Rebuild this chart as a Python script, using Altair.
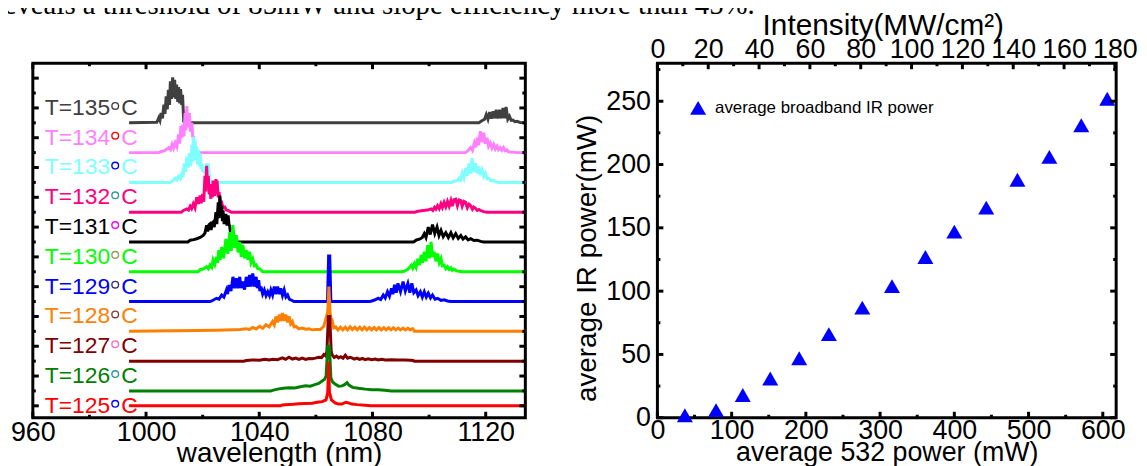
import altair as alt
import pandas as pd

# ---------------- data: left panel (spectra) ----------------
temps = [135, 134, 133, 132, 131, 130, 129, 128, 127, 126, 125]
offsets = [9.5, 8.5, 7.5, 6.5, 5.5, 4.5, 3.5, 2.5, 1.5, 0.5, 0.0]
label_pos = [10, 9, 8, 7, 6, 5, 4, 3, 2, 1, 0]
trace_colors = ['#404040', '#ff80ff', '#80ffff', '#ff0080', '#000000', '#00ff00',
                '#0000ff', '#ff8000', '#800000', '#008000', '#ff0000']
degree_colors = ['#404040', '#ff0000', '#0000ff', '#339999', '#ff00ff', '#999966',
                 '#333366', '#804040', '#ff66cc', '#339999', '#0000ff']

t135 = [(994, 0), (1003.8, 0.02), (1004.5, 0.17), (1004.9, 0.08), (1005.3, 0.33), (1005.8, 0.15),
        (1006.3, 0.61), (1006.7, 0.3), (1007.1, 0.89), (1007.5, 0.45), (1007.9, 1.11), (1008.3, 0.6),
        (1008.6, 1.39), (1009.0, 0.8), (1009.4, 1.53), (1009.8, 0.85), (1010.1, 1.44), (1010.5, 0.8),
        (1010.8, 1.28), (1011.2, 0.7), (1011.5, 1.2), (1011.9, 0.65), (1012.2, 1.13), (1012.6, 0.6),
        (1012.9, 0.94), (1013.3, 0.05), (1013.6, 0), (1117.6, 0), (1118.5, 0.06), (1119.6, 0.12),
        (1120.2, 0.28), (1120.8, 0.12), (1121.4, 0.36), (1122.0, 0.14), (1122.6, 0.39), (1123.2, 0.15),
        (1123.7, 0.44), (1124.3, 0.15), (1124.9, 0.44), (1125.5, 0.15), (1126.1, 0.5), (1126.7, 0.15),
        (1127.2, 0.53), (1127.8, 0.12), (1128.4, 0.22), (1129.0, 0.08), (1129.6, 0.09), (1130.3, 0.04),
        (1131.0, 0.05), (1132.2, 0.01), (1134, 0)]
t134 = [(994, 0), (1004.5, 0), (1005.1, 0.03), (1006.5, 0.06), (1008.0, 0.17), (1008.6, 0.1),
        (1009.2, 0.28), (1009.7, 0.15), (1010.3, 0.33), (1010.9, 0.2), (1011.5, 0.61), (1011.9, 0.3),
        (1012.3, 0.89), (1012.7, 0.5), (1013.0, 0.94), (1013.4, 0.55), (1013.8, 1.33), (1014.1, 0.75),
        (1014.4, 1.56), (1014.8, 0.85), (1015.3, 1.33), (1015.7, 0.7), (1016.2, 1.0), (1016.5, 0.5),
        (1016.7, 0.56), (1017.0, 0.3), (1017.3, 0.28), (1017.6, 0.12), (1017.9, 0.06), (1019.1, 0),
        (1112.8, 0), (1113.5, 0.04), (1114.7, 0.17), (1115.3, 0.08), (1116.0, 0.33), (1116.5, 0.18),
        (1117.0, 0.5), (1117.5, 0.25), (1118.1, 0.72), (1118.7, 0.35), (1119.3, 0.67), (1119.9, 0.3),
        (1120.5, 0.5), (1121.0, 0.22), (1121.6, 0.33), (1122.2, 0.15), (1122.8, 0.28), (1123.4, 0.12),
        (1124.0, 0.22), (1124.5, 0.1), (1125.1, 0.17), (1125.7, 0.08), (1126.3, 0.17), (1126.9, 0.06),
        (1127.5, 0.09), (1128.0, 0.03), (1128.6, 0.02), (1131.0, 0), (1134, 0)]
t133 = [(994, 0), (1008.5, 0), (1009.2, 0.03), (1010.3, 0.14), (1010.9, 0.08), (1011.5, 0.2),
        (1012.1, 0.12), (1012.7, 0.31), (1013.1, 0.18), (1013.5, 0.64), (1014.0, 0.35), (1014.4, 0.87),
        (1014.9, 0.5), (1015.3, 0.98), (1015.8, 0.55), (1016.2, 1.26), (1016.5, 0.7), (1016.7, 1.53),
        (1017.0, 0.8), (1017.3, 1.42), (1017.6, 0.75), (1017.9, 1.2), (1018.2, 0.6), (1018.5, 1.09),
        (1018.8, 0.55), (1019.1, 0.98), (1019.4, 0.45), (1019.7, 0.64), (1020.0, 0.35), (1020.2, 0.53),
        (1020.8, 0.3), (1021.4, 0.64), (1021.7, 0.35), (1022.0, 0.64), (1022.3, 0.3), (1022.6, 0.09),
        (1023.2, 0), (1108.0, 0), (1108.8, 0.04), (1110.0, 0.07), (1110.6, 0.14), (1111.1, 0.08),
        (1111.7, 0.31), (1112.3, 0.15), (1112.9, 0.48), (1113.5, 0.22), (1114.1, 0.64), (1114.6, 0.3),
        (1115.2, 0.81), (1115.8, 0.35), (1116.4, 0.64), (1117.0, 0.3), (1117.6, 0.53), (1118.1, 0.25),
        (1118.7, 0.42), (1119.3, 0.2), (1119.9, 0.31), (1120.5, 0.12), (1121.1, 0.14), (1121.9, 0.05),
        (1122.8, 0.07), (1123.6, 0.02), (1124.6, 0), (1134, 0)]
t132 = [(994, 0), (1012.5, 0), (1013.2, 0.06), (1014.4, 0.11), (1015.0, 0.07), (1015.6, 0.2),
        (1016.1, 0.12), (1016.7, 0.28), (1017.3, 0.15), (1017.9, 0.5), (1018.5, 0.28), (1019.1, 0.56),
        (1019.5, 0.3), (1020.0, 0.61), (1020.4, 0.35), (1020.8, 1.22), (1021.1, 0.7), (1021.4, 1.56),
        (1021.7, 0.85), (1022.0, 1.22), (1022.3, 0.6), (1022.6, 0.78), (1022.9, 0.45), (1023.2, 0.94),
        (1023.5, 0.5), (1023.7, 1.06), (1024.2, 0.55), (1024.7, 1.11), (1024.9, 0.6), (1025.1, 1.06),
        (1025.5, 0.5), (1025.8, 0.67), (1026.2, 0.3), (1026.7, 0.33), (1027.2, 0.15), (1027.8, 0.17),
        (1028.4, 0.07), (1029.0, 0.06), (1030.1, 0), (1095.0, 0), (1096.0, 0.03), (1098.0, 0.06),
        (1099.5, 0.07), (1100.7, 0.11), (1101.3, 0.06), (1101.9, 0.16), (1102.4, 0.1), (1103.0, 0.22),
        (1103.6, 0.12), (1104.2, 0.28), (1104.7, 0.16), (1105.3, 0.33), (1105.9, 0.18), (1106.5, 0.36),
        (1107.1, 0.2), (1107.7, 0.39), (1108.2, 0.2), (1108.8, 0.42), (1109.4, 0.44), (1110.0, 0.22),
        (1110.6, 0.41), (1111.2, 0.39), (1111.7, 0.2), (1112.3, 0.36), (1112.9, 0.33), (1113.5, 0.15),
        (1114.1, 0.27), (1114.7, 0.22), (1115.3, 0.1), (1115.8, 0.17), (1116.4, 0.13), (1117.0, 0.06),
        (1117.6, 0.09), (1118.1, 0.06), (1119.3, 0.02), (1120.5, 0), (1134, 0)]
t131 = [(994, 0), (1014.8, 0), (1015.6, 0.06), (1016.8, 0.08), (1017.9, 0.11), (1019.1, 0.15),
        (1020.2, 0.22), (1020.8, 0.3), (1021.4, 0.56), (1021.8, 0.35), (1022.2, 0.58), (1022.6, 0.61),
        (1023.0, 0.4), (1023.4, 0.64), (1023.7, 0.67), (1024.1, 0.5), (1024.7, 1.0), (1025.0, 0.6),
        (1025.5, 1.33), (1025.8, 0.8), (1026.1, 1.56), (1026.4, 0.9), (1026.7, 1.22), (1027.0, 0.7),
        (1027.2, 1.06), (1027.6, 0.6), (1028.2, 0.94), (1028.6, 0.55), (1029.0, 0.89), (1029.3, 0.6),
        (1029.6, 0.5), (1029.9, 0.25), (1030.2, 0.11), (1030.7, 0), (1094.5, 0), (1095.4, 0.06),
        (1096.8, 0.1), (1097.6, 0.15), (1098.3, 0.28), (1098.9, 0.15), (1099.7, 0.5), (1100.4, 0.25),
        (1101.2, 0.58), (1102.0, 0.28), (1102.8, 0.5), (1103.5, 0.22), (1104.2, 0.39), (1105.0, 0.18),
        (1105.9, 0.31), (1106.8, 0.15), (1107.7, 0.31), (1108.5, 0.14), (1109.4, 0.28), (1110.3, 0.12),
        (1111.2, 0.22), (1112.0, 0.1), (1112.9, 0.17), (1113.8, 0.07), (1114.7, 0.11), (1115.8, 0.05),
        (1117.0, 0.06), (1118.2, 0.02), (1119.3, 0), (1134, 0)]
t130 = [(994, 0), (1018.4, 0), (1019.1, 0.07), (1020.3, 0.1), (1021.4, 0.17), (1022.0, 0.1),
        (1022.6, 0.23), (1023.2, 0.15), (1023.7, 0.4), (1024.3, 0.25), (1024.9, 0.5), (1025.3, 0.3),
        (1025.7, 0.73), (1026.2, 0.4), (1026.7, 0.83), (1027.4, 0.45), (1028.2, 1.1), (1028.9, 0.6),
        (1029.6, 1.33), (1030.1, 0.7), (1030.7, 1.57), (1031.3, 0.8), (1031.9, 1.23), (1032.5, 0.65),
        (1033.1, 1.0), (1033.6, 0.5), (1034.2, 0.9), (1034.8, 0.45), (1035.4, 0.73), (1036.0, 0.4),
        (1036.6, 0.67), (1037.1, 0.3), (1037.7, 0.43), (1038.3, 0.2), (1038.9, 0.23), (1039.5, 0.1),
        (1040.1, 0.1), (1041.2, 0), (1090.5, 0), (1091.3, 0.02), (1092.5, 0.08), (1093.7, 0.22),
        (1094.2, 0.12), (1094.8, 0.28), (1095.4, 0.15), (1096.0, 0.44), (1096.6, 0.22), (1097.2, 0.56),
        (1097.7, 0.3), (1098.3, 0.67), (1098.9, 0.35), (1099.5, 0.89), (1100.1, 0.45), (1100.7, 1.0),
        (1101.2, 0.5), (1101.8, 0.67), (1102.4, 0.35), (1103.0, 0.61), (1103.6, 0.3), (1104.2, 0.44),
        (1104.7, 0.2), (1105.3, 0.22), (1105.9, 0.1), (1106.5, 0.17), (1107.1, 0.08), (1107.7, 0.13),
        (1108.2, 0.05), (1108.8, 0.09), (1109.7, 0.03), (1110.6, 0.02), (1111.7, 0), (1134, 0)]
t129 = [(994, 0), (1022.5, 0), (1023.2, 0.02), (1024.9, 0.11), (1025.8, 0.08), (1026.7, 0.22),
        (1027.5, 0.15), (1028.4, 0.39), (1028.8, 0.25), (1029.3, 0.56), (1030.0, 0.35), (1030.7, 0.83),
        (1031.3, 0.45), (1031.9, 0.78), (1032.5, 0.45), (1033.1, 0.83), (1033.6, 0.45), (1034.2, 0.67),
        (1034.8, 0.4), (1035.4, 0.83), (1036.0, 0.5), (1036.6, 0.89), (1037.1, 0.5), (1037.7, 0.94),
        (1038.3, 0.5), (1038.9, 0.83), (1039.3, 0.45), (1039.8, 0.72), (1040.2, 0.35), (1040.6, 0.5),
        (1041.2, 0.25), (1041.8, 0.39), (1042.4, 0.2), (1043.0, 0.33), (1043.6, 0.2), (1044.1, 0.39),
        (1044.7, 0.22), (1045.3, 0.5), (1045.9, 0.25), (1046.5, 0.5), (1047.1, 0.25), (1047.6, 0.44),
        (1048.2, 0.2), (1048.8, 0.39), (1049.4, 0.15), (1050.0, 0.22), (1050.6, 0.08), (1051.1, 0.06),
        (1052.3, 0), (1064.1, 0), (1064.5, 1.53), (1064.9, 1.53), (1065.3, 0), (1079.0, 0),
        (1079.7, 0.02), (1081.0, 0.06), (1082.0, 0.11), (1082.9, 0.07), (1083.8, 0.22), (1084.5, 0.12),
        (1085.3, 0.33), (1086.0, 0.18), (1086.7, 0.44), (1087.2, 0.25), (1087.8, 0.56), (1088.4, 0.3),
        (1089.0, 0.61), (1089.9, 0.33), (1090.8, 0.67), (1091.6, 0.35), (1092.5, 0.61), (1093.2, 0.3),
        (1093.9, 0.61), (1094.6, 0.3), (1095.4, 0.39), (1096.1, 0.2), (1096.9, 0.33), (1097.6, 0.15),
        (1098.3, 0.33), (1099.0, 0.15), (1099.7, 0.28), (1100.5, 0.12), (1101.2, 0.22), (1102.1, 0.08),
        (1103.0, 0.11), (1104.2, 0.04), (1105.3, 0.06), (1106.5, 0.02), (1107.7, 0), (1134, 0)]
t128 = [(994, 0), (1010, 0.02), (1025, 0.04), (1033.1, 0.06), (1035.4, 0.09), (1036.5, 0.06),
        (1037.7, 0.13), (1038.9, 0.08), (1040.1, 0.17), (1041.2, 0.1), (1042.4, 0.22), (1043.5, 0.15),
        (1044.7, 0.33), (1045.3, 0.22), (1045.9, 0.5), (1046.5, 0.3), (1047.1, 0.56), (1047.6, 0.35),
        (1048.2, 0.61), (1048.8, 0.35), (1049.4, 0.56), (1050.0, 0.3), (1050.5, 0.5), (1051.1, 0.25),
        (1051.7, 0.33), (1052.3, 0.15), (1052.9, 0.17), (1054.0, 0.08), (1055.2, 0.11), (1056.4, 0.07),
        (1057.5, 0.09), (1058.7, 0.05), (1059.9, 0.06), (1061.6, 0.06), (1062.8, 0.17), (1063.6, 0.44),
        (1064.2, 0.67), (1064.6, 1.5), (1065.0, 0.67), (1065.3, 0.4), (1065.7, 0.39), (1066.3, 0.12),
        (1067.0, 0.15), (1067.8, 0.05), (1068.7, 0.14), (1069.5, 0.05), (1070.4, 0.14), (1071.2, 0.05),
        (1072.1, 0.15), (1072.9, 0.06), (1073.8, 0.14), (1074.6, 0.05), (1075.5, 0.14), (1076.3, 0.05),
        (1077.2, 0.14), (1078.0, 0.05), (1078.9, 0.13), (1079.7, 0.05), (1080.6, 0.13), (1081.4, 0.05),
        (1082.3, 0.13), (1083.1, 0.05), (1084.0, 0.12), (1084.8, 0.05), (1085.7, 0.12), (1086.5, 0.05),
        (1087.4, 0.12), (1088.2, 0.05), (1089.1, 0.11), (1089.9, 0.05), (1090.8, 0.11), (1091.6, 0.05),
        (1092.5, 0.1), (1093.3, 0.05), (1094.2, 0.09), (1094.8, 0), (1134, 0)]
t127 = [(994, 0), (1034.5, 0), (1035.4, 0.02), (1037.5, 0.04), (1040.0, 0.03), (1042.0, 0.06),
        (1043.5, 0.04), (1044.7, 0.06), (1046.4, 0.05), (1048.2, 0.11), (1049.3, 0.06), (1050.5, 0.13),
        (1051.7, 0.07), (1052.9, 0.1), (1054.0, 0.06), (1055.2, 0.1), (1056.4, 0.06), (1057.5, 0.09),
        (1058.7, 0.08), (1059.8, 0.1), (1061.0, 0.13), (1062.0, 0.12), (1062.8, 0.22), (1063.4, 0.18),
        (1063.9, 0.33), (1064.4, 1.5), (1064.9, 1.5), (1065.4, 0.35), (1065.7, 0.22), (1066.5, 0.12),
        (1067.3, 0.17), (1068.0, 0.11), (1068.8, 0.15), (1069.6, 0.1), (1070.4, 0.2), (1071.2, 0.1),
        (1072.1, 0.13), (1072.7, 0.11), (1073.6, 0.07), (1074.5, 0.1), (1075.4, 0.06), (1076.4, 0.09),
        (1077.4, 0.05), (1078.5, 0.08), (1079.7, 0.05), (1081.0, 0.07), (1082.0, 0.04), (1083.3, 0.06),
        (1084.5, 0.04), (1086.7, 0.05), (1089.0, 0.04), (1091.3, 0.04), (1093.5, 0.03), (1094.3, 0.02),
        (1094.8, 0), (1134, 0)]
t126 = [(994, 0), (1044.0, 0), (1044.7, 0.02), (1046.5, 0.06), (1048.5, 0.09), (1050.5, 0.11),
        (1052.5, 0.1), (1054.5, 0.14), (1056.4, 0.17), (1058.0, 0.16), (1059.9, 0.22), (1061.0, 0.25),
        (1062.2, 0.33), (1063.0, 0.38), (1063.6, 0.5), (1064.2, 1.5), (1064.8, 1.5), (1065.3, 0.44),
        (1065.9, 0.3), (1066.9, 0.22), (1068.0, 0.16), (1069.2, 0.17), (1070.0, 0.2), (1071.0, 0.28),
        (1071.6, 0.2), (1072.1, 0.17), (1073.0, 0.12), (1075.0, 0.09), (1077.5, 0.06), (1079.7, 0.04),
        (1082.0, 0.04), (1084.3, 0.02), (1086.7, 0), (1134, 0)]
t125 = [(994, 0), (1047.5, 0), (1048.2, 0.03), (1052.0, 0.05), (1054.0, 0.07), (1056.5, 0.08),
        (1058.7, 0.09), (1061.0, 0.13), (1062.2, 0.14), (1063.6, 0.2), (1064.2, 0.45), (1064.5, 1.48),
        (1064.8, 0.45), (1065.5, 0.2), (1066.9, 0.09), (1068.0, 0.06), (1069.2, 0.06), (1070.6, 0.12),
        (1071.5, 0.1), (1072.7, 0.06), (1074.5, 0.04), (1077.4, 0.02), (1079.5, 0), (1134, 0)]
spectra = [t135, t134, t133, t132, t131, t130, t129, t128, t127, t126, t125]

wl_major = [960, 1000, 1040, 1080, 1120]
wl_minor = [980, 1020, 1060, 1100]
off_major = [0, 1, 2, 3, 4, 5, 6, 7, 8, 9, 10, 11]
off_minor = [0.5, 1.5, 2.5, 3.5, 4.5, 5.5, 6.5, 7.5, 8.5, 9.5, 10.5]

# ---------------- data: right panel ----------------
power_532 = [37, 79, 115, 152, 191, 231, 276, 316, 361, 400, 443, 485, 528, 571, 606]
ir_power = [2, 6, 18, 31, 47, 66, 87, 104, 127, 147, 166, 188, 206, 231, 252]
p_major = [0, 100, 200, 300, 400, 500, 600]
p_minor = [50, 150, 250, 350, 450, 550]
ir_major = [0, 50, 100, 150, 200, 250]
ir_minor = [25, 75, 125, 175, 225, 275]
int_major = [0, 20, 40, 60, 80, 100, 120, 140, 160, 180]
int_minor = [10, 30, 50, 70, 90, 110, 130, 150, 170]

top_text = "reveals a threshold of 85mW and slope efficiency more than 45%."

# ---------------- chart ----------------
FONT = "Liberation Sans"
W1, W2, H = 496, 462, 357
MAJ, MIN, TW = 6, 3, 3

xs1 = alt.Scale(domain=[960, 1134], nice=False, zero=False)
ys1 = alt.Scale(domain=[-0.4, 11.5], nice=False, zero=False)
ax1 = alt.Axis(values=wl_major, title="wavelength (nm)", ticks=False, tickSize=0, domain=False,
               grid=False, labelFont=FONT, labelFontSize=27, labelPadding=2, labelFlush=False,
               labelOverlap=False, labelColor="black", format="d", titleFont=FONT,
               titleFontSize=28, titleFontWeight="normal", titleColor="black", titlePadding=-6)
X1 = alt.X("wl:Q", scale=xs1, axis=ax1)
Y1 = alt.Y("v:Q", scale=ys1, axis=None)

rows = []
for T, off, pts in zip(temps, offsets, spectra):
    for wl, h in pts:
        rows.append({"T": f"T={T}", "wl": wl, "v": off + h})
spec_df = pd.DataFrame(rows)
color_scale = alt.Scale(domain=[f"T={t}" for t in temps], range=trace_colors)

layers_left = []
for T in temps:
    layers_left.append(
        alt.Chart(spec_df[spec_df["T"] == f"T={T}"]).mark_line(strokeWidth=3, strokeJoin="miter").encode(
            x=X1, y=Y1, color=alt.Color("T:N", scale=color_scale, legend=None)))

LABEL_WL = 964.2
lab_df = pd.DataFrame({"T": [f"T={t}" for t in temps], "wl": [LABEL_WL] * len(temps),
                       "v": label_pos, "dc": degree_colors})
labels = alt.Chart(lab_df).mark_text(align="left", baseline="middle", font=FONT, fontSize=23).encode(
    x=X1, y=Y1, text="T:N", color=alt.Color("T:N", scale=color_scale, legend=None))
labels_c = alt.Chart(lab_df).mark_text(align="left", baseline="middle", font=FONT, fontSize=23, dx=77).encode(
    x=X1, y=Y1, text=alt.value("C"), color=alt.Color("T:N", scale=color_scale, legend=None))
degrees = alt.Chart(lab_df).mark_point(shape="circle", filled=False, size=45, strokeWidth=1.4,
                                       xOffset=71, yOffset=-2, opacity=1).encode(
    x=X1, y=Y1, stroke=alt.Stroke("dc:N", scale=None))

def xticks(vals, scale_x, field, length, axis):
    df = pd.DataFrame({field: vals})
    xx = alt.X(f"{field}:Q", scale=scale_x, axis=axis)
    bot = alt.Chart(df).mark_rule(color="black", strokeWidth=TW).encode(
        x=xx, y=alt.value(H), y2=alt.value(H - length))
    top = alt.Chart(df).mark_rule(color="black", strokeWidth=TW).encode(
        x=xx, y=alt.value(0), y2=alt.value(length))
    return [bot, top]

def yticks(vals, scale_y, field, length, width, axis):
    df = pd.DataFrame({field: vals})
    yy = alt.Y(f"{field}:Q", scale=scale_y, axis=axis)
    lft = alt.Chart(df).mark_rule(color="black", strokeWidth=TW).encode(
        y=yy, x=alt.value(0), x2=alt.value(length))
    rgt = alt.Chart(df).mark_rule(color="black", strokeWidth=TW).encode(
        y=yy, x=alt.value(width), x2=alt.value(width - length))
    return [lft, rgt]

tick_layers_left = (xticks(wl_major, xs1, "wl", MAJ, ax1) + xticks(wl_minor, xs1, "wl", MIN, ax1)
                    + yticks(off_major, ys1, "v", MAJ, W1, None) + yticks(off_minor, ys1, "v", MIN, W1, None))

top_note = alt.Chart(pd.DataFrame({"t": [top_text]})).mark_text(
    align="left", baseline="alphabetic", font="Liberation Serif", fontSize=29, color="black").encode(
    x=alt.value(-39), y=alt.value(-50), text="t:N")

left = alt.layer(*layers_left, labels, labels_c, degrees, *tick_layers_left, top_note).properties(
    width=W1, height=H)

# right panel
xs2 = alt.Scale(domain=[0, 618], nice=False, zero=False)
ys2 = alt.Scale(domain=[0, 280], nice=False, zero=False)
xs3 = alt.Scale(domain=[0, 180.5], nice=False, zero=False)
ax2 = alt.Axis(values=p_major, title="average 532 power (mW)", ticks=False, tickSize=0, domain=False,
               grid=False, labelFont=FONT, labelFontSize=27, labelPadding=0, labelFlush=False,
               labelOverlap=False, labelColor="black", format="d", titleFont=FONT, titleFontSize=27,
               titleFontWeight="normal", titleColor="black", titlePadding=-4)
ay2 = alt.Axis(values=ir_major, title="average IR power(mW)", ticks=False, tickSize=0, domain=False,
               grid=False, labelFont=FONT, labelFontSize=27, labelPadding=7, labelOverlap=False,
               labelColor="black", format="d", titleFont=FONT, titleFontSize=28,
               titleFontWeight="normal", titleColor="black", titleX=-70, titleY=196,
               titleBaseline="middle", titleAlign="center", titleAngle=-90)
ax3 = alt.Axis(values=int_major, title="Intensity(MW/cm²)", ticks=False, tickSize=0, domain=False,
               grid=False, orient="top", labelFont=FONT, labelFontSize=27, labelPadding=0,
               labelFlush=False, labelOverlap=False, labelColor="black", format="d", titleFont=FONT,
               titleFontSize=30, titleFontWeight="normal", titleColor="black", titlePadding=-5,
               titleX=227, titleAlign="center")

pts_df = pd.DataFrame({"p": power_532, "ir": ir_power})
X2 = alt.X("p:Q", scale=xs2, axis=ax2)
Y2 = alt.Y("ir:Q", scale=ys2, axis=ay2)
tri = alt.Chart(pts_df).mark_point(shape="triangle-up", filled=True, size=260, color="#0000ff",
                                   opacity=1).encode(x=X2, y=Y2)
leg_df = pd.DataFrame({"t": ["average broadband IR power"]})
leg_tri = alt.Chart(leg_df).mark_point(shape="triangle-up", filled=True, size=260, color="#0000ff",
                                       opacity=1).encode(x=alt.value(41), y=alt.value(45))
leg_txt = alt.Chart(leg_df).mark_text(align="left", baseline="middle", font=FONT, fontSize=17,
                                      color="black").encode(x=alt.value(58), y=alt.value(45), text="t:N")

r_ticks = (xticks(p_major, xs2, "p", MAJ, ax2)[:1] + xticks(p_minor, xs2, "p", MIN, ax2)[:1]
           + yticks(ir_major, ys2, "ir", MAJ, W2, ay2) + yticks(ir_minor, ys2, "ir", MIN, W2, ay2))
bottom_group = alt.layer(tri, leg_tri, leg_txt, *r_ticks)

int_maj_df = pd.DataFrame({"i": int_major})
int_min_df = pd.DataFrame({"i": int_minor})
top_maj = alt.Chart(int_maj_df).mark_rule(color="black", strokeWidth=TW).encode(
    x=alt.X("i:Q", scale=xs3, axis=ax3), y=alt.value(0), y2=alt.value(MAJ))
top_min = alt.Chart(int_min_df).mark_rule(color="black", strokeWidth=TW).encode(
    x=alt.X("i:Q", scale=xs3, axis=ax3), y=alt.value(0), y2=alt.value(MIN))
top_group = alt.layer(top_maj, top_min)

right = alt.layer(bottom_group, top_group).resolve_scale(x="independent").properties(width=W2, height=H)

chart = alt.hconcat(left, right, spacing=133, bounds="flush").configure_view(
    stroke="black", strokeWidth=3)

try:
    chart.properties(padding={"left": -16, "top": -21, "right": 0, "bottom": 0}).save(
        "out.html", embed_options={"renderer": "svg", "actions": False})
except Exception:
    chart.properties(padding={"left": 5, "top": 5, "right": 0, "bottom": 0}).save(
        "out.html", embed_options={"renderer": "svg", "actions": False})
